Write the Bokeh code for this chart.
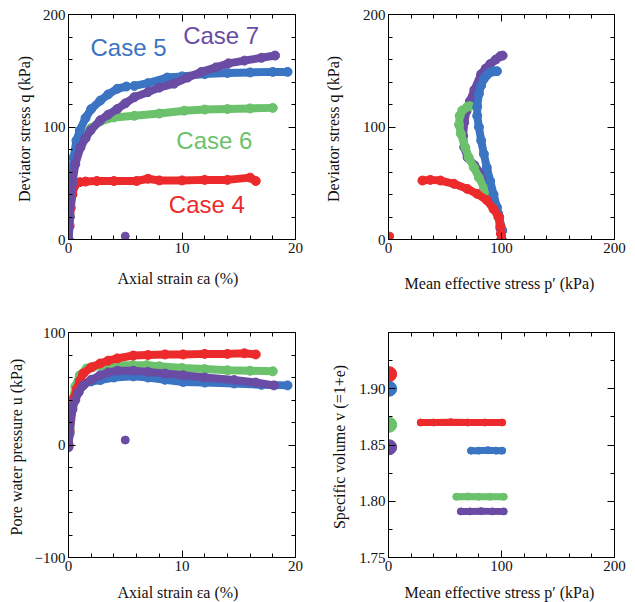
from bokeh.plotting import figure
from bokeh.models import LinearAxis, FixedTicker, Range1d, Label, NumeralTickFormatter
from bokeh.layouts import column, row
from bokeh.embed import file_html
from bokeh.resources import INLINE

RED = "#EC2A2C"
BLUE = "#3A74C2"
GREEN = "#6CC26C"
PURPLE = "#6A4CA4"

# ---------- (a) q vs axial strain ----------
c4_ea = [0, 0.1, 0.2, 0.35, 0.5, 0.7, 1.0, 1.5, 2.5, 4, 6, 7, 8, 10, 12, 14, 16, 16.5]
c4_q = [0, 12, 28, 40, 47, 50, 51, 51.5, 52, 52, 52, 54, 52.5, 52.5, 53, 53, 55, 52]
c5_ea = [0, 0.1, 0.25, 0.45, 0.7, 1.0, 1.5, 2.0, 2.8, 3.5, 4.3, 5.1, float("nan"), 5.8, 7, 8.7, 10, 12, 14, 16, 18, 19.3]
c5_q = [0, 20, 45, 73, 88, 97, 108, 116, 123.5, 129, 134, 136, float("nan"), 136.5, 139, 144, 145, 147, 148, 148.5, 149, 149]
c6_ea = [0, 0.1, 0.3, 0.5, 0.77, 1.0, 1.36, 2, 2.8, 4, 5.8, 8, 10.2, 12, 14, 16, 18]
c6_q = [0, 22, 52, 72, 85, 89, 92, 99, 105, 108.5, 110, 112, 114.5, 115.5, 116, 116.5, 117]
c7_ea = [0, 0.1, 0.33, 0.6, 1.06, 1.5, 1.94, 2.8, 3.5, 4.3, 5, 5.8, 7, 8, 9.3, 10.5, 11.7, 13, 14.1, 15.5, 17, 18.2]
c7_q = [0, 20, 49.5, 67, 82, 90, 97, 106, 111, 116, 121, 126.5, 131, 135, 138.5, 144, 149, 153, 156.6, 159, 161.5, 163.5]
c7_stray_ea = [5.0]
c7_stray_q = [3]

# ---------- (b) q vs p' ----------
c4_p = [100, 99.5, 99, 97.6, 93, 87, 78.5, 69.7, 58, 46, 37, 30]
c4_qp = [0, 5, 12, 20, 27, 35, 40.6, 45, 49.5, 52.4, 53, 52.4]
c4_stray_p = [1]
c4_stray_q = [3]
c5_p = [100, 100.6, 98, 96, 93, 90, 87, 84.4, 82, 80, 78.5, 78.5, 80, 82, 84.4, 87, 90, 93, 96]
c5_qp = [0, 8, 20, 28.7, 40, 52, 64, 76, 88, 100, 110, 118, 129.5, 137, 142.8, 146, 148.7, 149.5, 149.6]
c6_p = [100, 100.6, 97, 93, 89, 84.4, 80, 75.6, 71, 68, 64, 62.4, 63, 65.3, 69.7, 72]
c6_qp = [0, 8, 20, 28.7, 38, 46.5, 55, 64, 73, 82, 94, 102, 110, 114.7, 118, 118.5]
c7_p = [100, 99, 97, 93, 88, 82, 76, 70, 67, 66, 67, 69, 72, 76, 82, 86, 90, 95, 99, 101]
c7_qp = [0, 10, 23, 35, 47, 58, 66, 73, 82, 92, 104, 114, 123, 133, 147, 152, 156, 160, 163, 163.5]

# ---------- (c) u vs axial strain ----------
c4_uea = [0, 0.1, 0.3, 0.5, 0.74, 1.0, 1.3, 2, 2.8, 3.5, 4.3, 5.7, 7, 8.5, 10.1, 12, 14, 15.5, 16.5]
c4_u = [0, 12, 31, 42, 50, 57, 63.6, 69, 72.5, 75, 77, 79.5, 80, 80.5, 80.5, 81, 81, 81.5, 80.5]
c5_uea = [0, 0.1, 0.44, 0.8, 1.3, 2, 2.8, 4, 5.7, 7, 8.5, 10.1, 12, 14.6, 17, 19.3]
c5_u = [0, 10, 40, 49, 54.7, 56.5, 57.7, 60, 61, 60, 58, 56, 55.5, 54.7, 53.5, 53]
c6_uea = [0, 0.1, 0.3, 0.6, 1.0, 1.6, 2.2, 3, 4, 5.7, 6.9, 8, 10, 12, 14, 16, 18]
c6_u = [0, 14, 35, 52, 62, 68, 69.5, 70.5, 71, 71, 71, 70, 68.5, 67.5, 66.5, 66, 65.5]
c7_uea = [0, 0.15, 0.35, 0.6, 0.9, 1.3, 2, 2.8, 3.5, 4.3, 5.7, 7, 8.5, 10.1, 12, 14.6, 16.5, 18.1]
c7_u = [-2, 22, 32, 40, 47, 53, 58, 62, 64.5, 66, 66, 65, 63.5, 62, 60, 57.7, 55.5, 53]
c7_stray_uea = [5.0]
c7_stray_u = [4.4]

# ---------- (d) v vs p' ----------
init_p = [0.6, 0.6, 0.6, 0.6]
init_v = [1.913, 1.900, 1.868, 1.848]
init_colors = [RED, BLUE, GREEN, PURPLE]
c4_vp = [28.5, 40, 55, 70, 85, 100.6]
c4_v = [1.870, 1.870, 1.8703, 1.870, 1.870, 1.870]
c5_vp = [73, 80, 88, 95, 100.6]
c5_v = [1.845, 1.845, 1.8453, 1.845, 1.845]
c6_vp = [60, 70, 80, 90, 102]
c6_v = [1.804, 1.8043, 1.804, 1.804, 1.804]
c7_vp = [64, 72, 82, 92, 102]
c7_v = [1.791, 1.791, 1.7912, 1.791, 1.791]

# ---------- tick definitions ----------
strain_ticks = [0, 10, 20]
strain_minor = list(range(0, 21, 2))
q_ticks = [0, 100, 200]
q_minor = list(range(0, 201, 20))
p_ticks = [0, 100, 200]
p_minor = list(range(0, 201, 20))
u_ticks = [-100, 0, 100]
u_minor = list(range(-100, 101, 20))
v_ticks = [1.75, 1.80, 1.85, 1.90]
v_minor = [1.75, 1.775, 1.80, 1.825, 1.85, 1.875, 1.90, 1.925]

SERIF = "Liberation Serif"
SANS = "Liberation Sans"
TXT = "#111111"


def style_axis(ax, show):
    ax.axis_line_color = "black"
    ax.axis_line_width = 1
    ax.major_tick_line_color = "black"
    ax.minor_tick_line_color = "black"
    ax.major_tick_in = 7
    ax.major_tick_out = 0
    ax.minor_tick_in = 4
    ax.minor_tick_out = 0
    ax.major_label_text_font = SERIF
    ax.axis_label_text_font = SERIF
    ax.axis_label_text_font_style = "normal"
    ax.axis_label_text_font_size = "16px"
    ax.axis_label_text_color = TXT
    if show:
        ax.major_label_text_color = TXT
        ax.major_label_text_font_size = "15px"
        ax.major_label_standoff = 3
    else:
        ax.major_label_text_color = None
        ax.major_label_text_font_size = "1px"
        ax.major_label_standoff = 0


def make_fig(xr, yr, xt, xm, yt, ym, borders, frame, xlabel, ylabel,
             xstand, ystand, yfmt=None, yover=None):
    bl, bt, br, bb = borders
    p = figure(frame_width=frame[0], frame_height=frame[1],
               x_range=Range1d(*xr), y_range=Range1d(*yr),
               x_axis_type=None, y_axis_type=None,
               output_backend="svg", toolbar_location=None,
               min_border_left=bl, min_border_top=bt,
               min_border_right=br, min_border_bottom=bb)
    p.outline_line_color = "black"
    p.background_fill_color = "white"
    p.border_fill_color = "white"
    xtick = FixedTicker(ticks=xt, minor_ticks=xm)
    ytick = FixedTicker(ticks=yt, minor_ticks=ym)
    bx = LinearAxis(ticker=xtick, axis_label=xlabel, axis_label_standoff=xstand)
    style_axis(bx, True)
    ly = LinearAxis(ticker=ytick, axis_label=ylabel, axis_label_standoff=ystand)
    style_axis(ly, True)
    if yfmt is not None:
        ly.formatter = yfmt
    if yover is not None:
        ly.major_label_overrides = yover
    tx = LinearAxis(ticker=xtick)
    style_axis(tx, False)
    ry = LinearAxis(ticker=ytick)
    style_axis(ry, False)
    p.add_layout(bx, "below")
    p.add_layout(ly, "left")
    p.add_layout(tx, "above")
    p.add_layout(ry, "right")
    return p


def curve(p, x, y, color, lw=8, size=9):
    p.line(x, y, line_width=lw, color=color, line_cap="round", line_join="round")
    p.scatter(x, y, size=size, color=color)


STRAIN_LABEL = "Axial strain   \u03b5a (%)"
P_LABEL = "Mean effective stress  p\u2032 (kPa)"

# (a)
pa = make_fig((0, 20), (0, 200), strain_ticks, strain_minor, q_ticks, q_minor,
              (68, 14, 22, 59), (227, 225), STRAIN_LABEL, "Deviator stress  q (kPa)", 14, 7)
curve(pa, c4_ea, c4_q, RED)
curve(pa, c6_ea, c6_q, GREEN)
curve(pa, c5_ea, c5_q, BLUE)
curve(pa, c7_ea, c7_q, PURPLE)
pa.scatter(c7_stray_ea, c7_stray_q, size=8, color=PURPLE)
case_names = ["Case 5", "Case 7", "Case 6", "Case 4"]
case_x = [1.94, 10.1, 9.5, 8.84]
case_y = [170.7, 181.3, 88, 31]
case_colors = [BLUE, PURPLE, GREEN, RED]
for t, x, y, c in zip(case_names, case_x, case_y, case_colors):
    pa.add_layout(Label(x=x, y=y, text=t, text_color=c, text_font=SANS,
                        text_font_size="24px", text_baseline="middle", text_align="left"))

# (b)
pb = make_fig((0, 200), (0, 200), p_ticks, p_minor, q_ticks, q_minor,
              (71, 14, 21, 59), (226, 225), P_LABEL, "Deviator stress  q (kPa)", 19, 18)
curve(pb, c7_p, c7_qp, PURPLE)
curve(pb, c6_p, c6_qp, GREEN)
curve(pb, c5_p, c5_qp, BLUE)
curve(pb, c4_p, c4_qp, RED)
pb.scatter(c4_stray_p, c4_stray_q, size=8, color=RED)

# (c)
pc = make_fig((0, 20), (-100, 100), strain_ticks, strain_minor, u_ticks, u_minor,
              (68, 34, 22, 45), (227, 225), STRAIN_LABEL, "Pore water pressure  u (kPa)", 10, 7,
              yover={-100: "\u2212100"})
curve(pc, c5_uea, c5_u, BLUE)
curve(pc, c6_uea, c6_u, GREEN)
curve(pc, c4_uea, c4_u, RED)
curve(pc, c7_uea, c7_u, PURPLE)
pc.scatter(c7_stray_uea, c7_stray_u, size=8, color=PURPLE)

# (d)
pd_ = make_fig((0, 200), (1.75, 1.95), p_ticks, p_minor, v_ticks, v_minor,
               (71, 34, 21, 45), (226, 225), P_LABEL, "Specific volume  v (=1+e)", 10, 8,
               yfmt=NumeralTickFormatter(format="0.00"))
curve(pd_, c4_vp, c4_v, RED, lw=7, size=7)
curve(pd_, c5_vp, c5_v, BLUE, lw=7, size=7)
curve(pd_, c6_vp, c6_v, GREEN, lw=7, size=7)
curve(pd_, c7_vp, c7_v, PURPLE, lw=7, size=7)
pd_.scatter(init_p, init_v, size=15, color=init_colors)

layout = column(row(pa, pb), row(pc, pd_))
open("out.html", "w").write(file_html(layout, INLINE))
